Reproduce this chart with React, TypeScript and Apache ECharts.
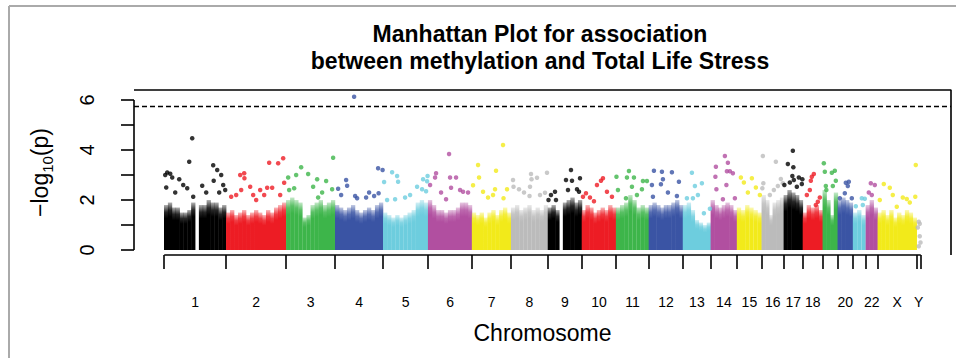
import React, { useEffect, useRef } from "react";
import * as echarts from "echarts";

const FONT = "'Liberation Sans', Arial, Helvetica, sans-serif";

const TITLE_LINES = ["Manhattan Plot for association", "between methylation and Total Life Stress"];
const X_NAME = "Chromosome";
const CHROMS = ["1","2","3","4","5","6","7","8","9","10","11","12","13","14","15","16","17","18","19","20","21","22","X","Y"];
const LABELED = ["1","2","3","4","5","6","7","8","9","10","11","12","13","14","15","16","17","18","20","22","X","Y"];
// plotted span of each chromosome (Mb)
const CHROM_LENGTHS = [248,240,196,192,180,176,156,148,136,136,132,136,112,104,100,88,76,80,60,60,52,48,156,16];
const PALETTE = ["#000000","#ED1C24","#3DB54A","#3A54A4","#6DCDDE","#B14FA0","#F2EA1A","#BBBBBB"];
const THRESHOLD = 5.74;
const Y_TICKS = [0,1,2,3,4,5,6];
const Y_LABELS = [0,2,4,6];

// height of the dense band of points, read at evenly spaced positions along each chromosome
const BAND_TOPS = [
  [1.8,1.9,1.7,1.7,1.5,1.5,1.6,1.9,0,1.8,1.8,2.0,1.9,1.9,1.7,1.8],
  [1.5,1.6,1.4,1.5,1.6,1.4,1.5,1.6,1.5,1.4,1.6,1.5,1.7,1.8,1.9],
  [2.0,2.1,2.0,1.9,1.3,1.4,1.8,1.9,2.0,1.8,1.9,2.0],
  [1.8,1.7,1.6,1.7,1.8,1.6,1.5,1.6,1.7,1.6,1.8,1.9],
  [1.5,1.4,1.3,1.4,1.3,1.4,1.5,1.6,1.9,2.0,1.9],
  [2.0,1.8,1.6,1.6,1.5,1.6,1.6,1.7,1.9,1.9,1.8],
  [1.5,1.4,1.5,1.3,1.5,1.6,1.4,1.6,1.7,1.5],
  [1.7,1.8,1.6,1.7,1.8,1.6,1.7,1.6,1.8],
  [1.7,1.8,1.6,0,1.9,2.0,2.1,1.9,2.0],
  [1.6,1.8,1.7,1.5,1.6,1.7,1.6,1.8,1.7],
  [1.7,1.8,1.9,2.2,2.0,1.7,1.8,1.7],
  [1.8,1.9,1.8,1.7,1.8,1.8,1.9,2.0,1.8],
  [1.8,1.9,1.6,1.2,1.1,1.0,1.1],
  [2.0,1.8,1.7,1.8,1.9,1.8,1.6],
  [1.7,1.6,1.8,1.7,1.6,1.5],
  [2.2,2.0,1.4,1.9,2.0,2.1],
  [2.2,2.4,2.3,2.2,2.0],
  [1.5,1.8,1.7,1.8,1.6],
  [2.4,2.0,1.4,2.3],
  [2.0,2.1,2.0,1.9],
  [1.5,1.6,1.4],
  [1.8,2.0,1.7],
  [1.5,1.6,1.4,1.6,1.3,1.5,1.4,1.6,1.5,1.3],
  [0]
];

// individual points standing above the band: [position within chromosome (Mb), -log10(p)]
const PEAKS = [
  [[112,4.47],[100,3.53],[4,3.0],[12,3.1],[24,3.05],[32,2.9],[60,2.83],[76,2.6],[92,2.47],[116,2.13],[196,3.39],[212,3.2],[228,3.0],[198,2.77],[152,2.57],[236,2.6],[244,2.4],[8,2.5],[44,2.3],[168,2.3],[220,2.3]],
  [[56,3.0],[72,3.07],[73,2.87],[172,3.49],[208,3.47],[228,3.67],[232,2.69],[164,2.49],[184,2.49],[96,2.53],[136,2.4],[20,2.13],[60,2.4],[120,2.0],[40,2.2],[152,2.2],[216,2.2],[108,2.2]],
  [[60,3.31],[40,3.0],[8,2.9],[88,3.04],[188,3.69],[124,2.83],[160,2.76],[184,2.43],[108,2.53],[32,2.47],[12,2.4],[128,2.1],[144,2.3]],
  [[76,6.13],[44,2.8],[48,2.57],[12,2.45],[172,3.27],[190,3.2],[174,2.27],[156,2.16],[80,2.16],[88,2.07],[24,2.2],[124,2.1],[136,2.3]],
  [[36,3.11],[56,2.96],[60,2.73],[4,2.72],[178,2.96],[160,2.83],[176,2.75],[136,2.53],[156,2.43],[172,2.35],[88,2.1],[48,2.03],[16,2.0],[108,2.2]],
  [[32,3.07],[28,2.9],[84,3.84],[88,2.9],[112,2.9],[92,2.49],[128,2.4],[140,2.33],[72,2.03],[8,2.6],[160,2.3],[52,2.3]],
  [[124,4.2],[24,3.4],[28,2.9],[96,3.17],[4,2.59],[92,2.43],[44,2.33],[140,2.43],[126,2.07],[84,2.2],[64,2.1]],
  [[80,3.04],[104,2.89],[82,2.83],[144,3.09],[8,2.8],[10,2.53],[32,2.43],[76,2.53],[74,2.16],[136,2.29],[52,2.3],[116,2.2]],
  [[92,3.2],[72,2.8],[96,2.77],[28,2.33],[32,2.0],[128,2.87],[116,2.43],[80,2.4],[124,2.33],[2,2.0],[12,2.2]],
  [[84,2.87],[76,2.77],[60,2.6],[4,2.13],[16,2.27],[120,2.13],[48,1.95],[100,2.33],[32,2.1]],
  [[52,3.16],[44,2.9],[72,2.9],[2,2.93],[108,2.76],[124,2.76],[64,2.53],[8,2.4],[40,2.07],[104,2.43],[84,2.2]],
  [[20,3.17],[52,3.13],[56,2.83],[48,2.63],[92,3.11],[120,2.73],[12,2.6],[112,2.16],[16,2.13],[76,2.3]],
  [[36,3.09],[48,2.56],[76,2.67],[16,2.07],[40,2.07],[108,1.65],[84,1.47],[60,2.2]],
  [[56,3.76],[68,3.49],[64,3.15],[76,3.15],[88,3.07],[20,3.33],[18,2.93],[22,2.43],[62,2.6],[48,2.03],[96,2.07]],
  [[16,2.9],[28,2.7],[60,2.87],[76,2.5],[44,2.3],[92,2.2]],
  [[4,3.76],[56,3.53],[6,2.67],[2,2.47],[76,2.84],[32,2.2],[64,2.56],[84,2.67],[48,2.4]],
  [[36,3.97],[16,3.44],[38,3.31],[34,2.96],[40,2.8],[2,2.6],[74,2.83],[72,2.64],[52,2.53],[24,2.7],[60,2.9]],
  [[44,3.04],[36,2.93],[32,2.77],[28,2.4],[16,2.2],[60,1.93],[52,1.8],[68,2.1]],
  [[4,3.47],[8,3.13],[12,2.56],[14,2.4],[48,3.17],[36,3.09],[52,2.77],[40,2.56]],
  [[32,2.69],[44,2.73],[40,2.56],[28,2.27],[56,2.07],[8,2.07]],
  [[36,2.07],[48,2.05],[40,1.8],[12,1.75]],
  [[20,2.67],[36,2.6],[24,2.2],[12,2.3]],
  [[152,3.4],[24,2.64],[48,2.49],[116,2.04],[150,2.13],[60,2.2],[76,1.73],[8,2.0],[100,2.1],[128,1.9]],
  [[8,1.13],[12,1.05],[4,0.9],[12,0.55],[15,0.3],[8,0.15]]
];

const STARTS: number[] = [];
{
  let acc = 0;
  for (const len of CHROM_LENGTHS) { STARTS.push(acc); acc += len; }
}
const TOTAL = CHROM_LENGTHS.reduce((a, b) => a + b, 0);
const PAD = TOTAL * 0.04;
const XMIN = -Math.round(PAD);
const XMAX = TOTAL + Math.round(PAD);
const YMIN = -0.2;
const YMAX = 6.4;

function hexToRgba(hex: string, a: number) {
  const n = parseInt(hex.slice(1), 16);
  return `rgba(${(n >> 16) & 255},${(n >> 8) & 255},${n & 255},${a})`;
}

export default function App() {
  const ref = useRef<HTMLDivElement>(null);

  useEffect(() => {
    if (!ref.current) return;
    const chart = echarts.init(ref.current, null, { renderer: "svg" });

    const colorOf = (i: number) => PALETTE[i % PALETTE.length];
    const bandFill = (c: string) =>
      new echarts.graphic.LinearGradient(0, 0, 0, 1, [
        { offset: 0, color: hexToRgba(c, 0.3) },
        { offset: 0.16, color: hexToRgba(c, 0.85) },
        { offset: 0.3, color: c },
        { offset: 1, color: c },
      ]);

    const bandData: any[] = [];
    BAND_TOPS.forEach((arr, ci) => {
      const step = CHROM_LENGTHS[ci] / arr.length;
      const fill = bandFill(colorOf(ci));
      arr.forEach((h, k) => {
        bandData.push({ value: [STARTS[ci] + step * (k + 0.5), h], itemStyle: { color: fill } });
      });
    });

    const peakData: any[] = [];
    PEAKS.forEach((arr, ci) => {
      arr.forEach(([p, v]) => {
        peakData.push({ value: [STARTS[ci] + p, v], itemStyle: { color: colorOf(ci) } });
      });
    });

    const boundaries = [...STARTS, TOTAL];
    const centers = CHROMS.map((_, i) => STARTS[i] + CHROM_LENGTHS[i] / 2);
    const labelCenters = centers.filter((_, i) => LABELED.includes(CHROMS[i]));
    const labelFor = (v: number) => {
      let best = 0;
      for (let i = 0; i < centers.length; i++) {
        if (Math.abs(centers[i] - v) < Math.abs(centers[best] - v)) best = i;
      }
      return CHROMS[best];
    };

    const lineStyle = { color: "#000", width: 1.6 };

    chart.setOption({
      animation: false,
      backgroundColor: "#ffffff",
      title: {
        text: TITLE_LINES.join("\n"),
        left: 540,
        top: 20,
        textAlign: "center",
        padding: 0,
        textStyle: { fontFamily: FONT, fontSize: 23, fontWeight: "bold", color: "#000", lineHeight: 27 },
      },
      graphic: [
        { type: "line", shape: { x1: 9, y1: 6, x2: 956, y2: 6 }, style: { stroke: "#aaaaaa", lineWidth: 2 } },
        { type: "line", shape: { x1: 9, y1: 6, x2: 9, y2: 358 }, style: { stroke: "#aaaaaa", lineWidth: 2 } },
      ],
      grid: { left: 134, right: 5, top: 90, bottom: 103, containLabel: false },
      xAxis: {
        type: "value",
        min: XMIN,
        max: XMAX,
        name: X_NAME,
        nameLocation: "middle",
        nameGap: 66,
        nameTextStyle: { fontFamily: FONT, fontSize: 23, color: "#000" },
        axisLine: { show: false, onZero: false },
        splitLine: { show: false },
        axisTick: { show: true, customValues: boundaries, length: 14, lineStyle },
        axisLabel: {
          customValues: labelCenters,
          formatter: (v: number) => labelFor(v),
          margin: 40,
          fontFamily: FONT,
          fontSize: 14,
          color: "#000",
        },
      },
      yAxis: {
        type: "value",
        min: YMIN,
        max: YMAX,
        name: "{a|−log}{sub|10}{a|(p)}",
        nameLocation: "middle",
        nameRotate: 90,
        nameGap: 79,
        nameTextStyle: {
          fontFamily: FONT,
          color: "#000",
          rich: {
            a: { fontFamily: FONT, fontSize: 23, lineHeight: 30, color: "#000", verticalAlign: "middle" },
            sub: { fontFamily: FONT, fontSize: 15, lineHeight: 15, color: "#000", verticalAlign: "bottom" },
          },
        },
        axisLine: { show: false, onZero: false },
        splitLine: { show: false },
        axisTick: { show: true, customValues: Y_TICKS, length: 13, lineStyle },
        axisLabel: {
          customValues: Y_LABELS,
          rotate: 90,
          margin: 37,
          fontFamily: FONT,
          fontSize: 20,
          color: "#000",
        },
      },
      series: [
        {
          type: "bar",
          name: "band",
          data: bandData,
          barWidth: 4.3,
          silent: true,
        },
        {
          type: "scatter",
          name: "points",
          data: peakData,
          symbolSize: 4.5,
          silent: true,
        },
        {
          type: "line",
          name: "y-axis",
          data: [[XMIN, 0], [XMIN, 6]],
          symbol: "none",
          clip: false,
          lineStyle,
          silent: true,
        },
        {
          type: "line",
          name: "x-axis",
          data: [[0, YMIN], [TOTAL, YMIN]],
          symbol: "none",
          clip: false,
          lineStyle,
          silent: true,
        },
        {
          type: "line",
          name: "box",
          data: [[XMIN, YMAX], [XMAX, YMAX], [XMAX, YMIN]],
          symbol: "none",
          clip: false,
          lineStyle,
          silent: true,
        },
        {
          type: "line",
          name: "threshold",
          data: [[XMIN, THRESHOLD], [XMAX, THRESHOLD]],
          symbol: "none",
          clip: false,
          lineStyle: { color: "#000", width: 1.6, type: [5, 3] },
          silent: true,
        },
      ],
    });

    return () => chart.dispose();
  }, []);

  return (
    <div
      ref={ref}
      style={{ position: "absolute", left: 0, top: 0, width: 956, height: 358 }}
    />
  );
}
